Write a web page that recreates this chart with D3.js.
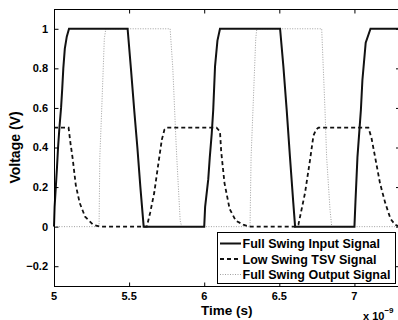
<!DOCTYPE html>
<html>
<head>
<meta charset="utf-8">
<script src="https://cdn.jsdelivr.net/npm/d3@7"></script>
<style>
  body { margin: 0; background: #fff; }
  svg { display: block; font-family: "Liberation Sans", Arial, Helvetica, sans-serif; font-weight: bold; }
</style>
</head>
<body>
<svg id="chart" width="398" height="320"></svg>
<script>
// Time in ns (axis shows x 10^-9 s), voltage in V
const inputSignal = [
    [5.000, 0.00], [5.004, 0.10], [5.012, 0.20], [5.020, 0.30], [5.027, 0.40], [5.036, 0.50],
    [5.047, 0.60], [5.055, 0.70], [5.062, 0.80], [5.072, 0.90], [5.085, 0.96], [5.100, 1.00],
    [5.490, 1.00], [5.512, 0.80], [5.535, 0.58], [5.555, 0.40], [5.575, 0.20], [5.597, 0.00],
    [6.000, 0.00], [6.006, 0.10], [6.027, 0.24], [6.037, 0.35], [6.050, 0.47], [6.060, 0.59],
    [6.072, 0.81], [6.088, 0.94], [6.105, 1.00],
    [6.505, 1.00], [6.527, 0.81], [6.549, 0.59], [6.571, 0.35], [6.593, 0.12], [6.605, 0.00],
    [7.000, 0.00], [7.007, 0.13], [7.020, 0.35], [7.043, 0.59], [7.053, 0.74], [7.075, 0.93],
    [7.107, 1.00], [7.300, 1.00]
];

const tsvSignal = [
    [5.000, 0.50], [5.097, 0.50], [5.110, 0.42], [5.125, 0.34], [5.145, 0.21], [5.171, 0.12],
    [5.207, 0.05], [5.260, 0.01], [5.307, 0.00],
    [5.618, 0.00], [5.640, 0.07], [5.667, 0.17], [5.695, 0.32], [5.718, 0.44], [5.735, 0.49], [5.750, 0.50],
    [6.082, 0.50], [6.105, 0.48], [6.113, 0.38], [6.135, 0.22], [6.169, 0.09], [6.210, 0.03],
    [6.260, 0.01], [6.300, 0.00],
    [6.610, 0.00], [6.627, 0.01], [6.671, 0.17], [6.705, 0.34], [6.727, 0.46], [6.745, 0.49], [6.760, 0.50],
    [7.093, 0.50], [7.113, 0.45], [7.138, 0.35], [7.170, 0.22], [7.205, 0.12], [7.240, 0.04],
    [7.270, 0.01], [7.300, 0.00]
];

const outputSignal = [
    [5.000, 0.00], [5.300, 0.00], [5.305, 0.35], [5.318, 0.60], [5.335, 0.95], [5.345, 1.00],
    [5.773, 1.00], [5.791, 0.80], [5.811, 0.45], [5.818, 0.34], [5.840, 0.03], [5.850, 0.00],
    [6.305, 0.00], [6.312, 0.35], [6.325, 0.60], [6.343, 0.95], [6.350, 1.00],
    [6.782, 1.00], [6.804, 0.59], [6.815, 0.35], [6.838, 0.08], [6.849, 0.00],
    [7.300, 0.00]
];

const seriesNames = ["Full Swing Input Signal", "Low Swing TSV Signal", "Full Swing Output Signal"];

const xTicks = [5, 5.5, 6, 6.5, 7];
const xTickLabels = ["5", "5.5", "6", "6.5", "7"];
const yTicks = [-0.2, 0, 0.2, 0.4, 0.6, 0.8, 1];
const yTickLabels = ["\u22120.2", "0", "0.2", "0.4", "0.6", "0.8", "1"];

const svg = d3.select("#chart");

// plot box (right edge falls just outside the picture)
const box = { left: 54, top: 9, right: 399.5, bottom: 286 };

const x = d3.scaleLinear().domain([5, 7.3]).range([box.left, box.right]);
const y = d3.scaleLinear().domain([-0.3, 1.1]).range([box.bottom, box.top]);

const line = d3.line()
    .x(d => x(d[0]))
    .y(d => y(d[1]));

// styles for the three signals, in legend order
const styles = [
    { stroke: "#111", width: 2, dash: null },
    { stroke: "#111", width: 1.8, dash: "4,3" },
    { stroke: "#a0a0a0", width: 1, dash: "1,1.5" }
];
const allSeries = [inputSignal, tsvSignal, outputSignal];

// draw output first so the darker lines sit on top
[2, 1, 0].forEach(i => {
    svg.append("path")
        .datum(allSeries[i])
        .attr("d", line)
        .attr("fill", "none")
        .attr("stroke", styles[i].stroke)
        .attr("stroke-width", styles[i].width)
        .attr("stroke-dasharray", styles[i].dash)
        .attr("stroke-linejoin", "miter");
});

// box + inward ticks, matlab style
svg.append("rect")
    .attr("x", box.left + 0.5).attr("y", box.top + 0.5)
    .attr("width", box.right - box.left).attr("height", box.bottom - box.top)
    .attr("fill", "none").attr("stroke", "#000").attr("stroke-width", 1);

const tickLen = 4;
svg.append("g").attr("transform", "translate(0," + (box.bottom + 0.5) + ")")
    .call(d3.axisTop(x).tickValues(xTicks).tickSize(tickLen).tickFormat(""))
    .call(g => g.select(".domain").remove());
svg.append("g").attr("transform", "translate(0," + (box.top + 0.5) + ")")
    .call(d3.axisBottom(x).tickValues(xTicks).tickSize(tickLen).tickFormat(""))
    .call(g => g.select(".domain").remove());
svg.append("g").attr("transform", "translate(" + (box.left + 0.5) + ",0)")
    .call(d3.axisRight(y).tickValues(yTicks).tickSize(tickLen).tickFormat(""))
    .call(g => g.select(".domain").remove());
svg.append("g").attr("transform", "translate(" + (box.right + 0.5) + ",0)")
    .call(d3.axisLeft(y).tickValues(yTicks).tickSize(tickLen).tickFormat(""))
    .call(g => g.select(".domain").remove());

// tick labels
svg.selectAll(".xlab")
    .data(xTicks)
    .enter()
    .append("text")
    .attr("x", d => x(d))
    .attr("y", 300)
    .attr("text-anchor", "middle")
    .style("font-size", "11px")
    .text((d, i) => xTickLabels[i]);

svg.selectAll(".ylab")
    .data(yTicks)
    .enter()
    .append("text")
    .attr("x", 48)
    .attr("y", d => y(d))
    .attr("dy", "0.36em")
    .attr("text-anchor", "end")
    .style("font-size", "11px")
    .text((d, i) => yTickLabels[i]);

// axis titles
svg.append("text")
    .attr("x", (box.left + box.right) / 2)
    .attr("y", 315)
    .attr("text-anchor", "middle")
    .style("font-size", "13.5px")
    .text("Time (s)");

svg.append("text")
    .attr("transform", "translate(20," + ((box.top + box.bottom) / 2) + ") rotate(-90)")
    .attr("text-anchor", "middle")
    .style("font-size", "14px")
    .text("Voltage (V)");

// exponent note
const expo = svg.append("text")
    .attr("x", 363)
    .attr("y", 319.5)
    .style("font-size", "11px");
expo.append("tspan").text("x 10");
expo.append("tspan").attr("dy", -7).style("font-size", "8px").text("\u22129");

// legend
const legend = svg.append("g");
legend.append("rect")
    .attr("x", 217.5).attr("y", 232.5)
    .attr("width", 178).attr("height", 51)
    .attr("fill", "#fff").attr("stroke", "#000").attr("stroke-width", 1);

const rowY = [243.5, 259, 274.5];
seriesNames.forEach((name, i) => {
    legend.append("line")
        .attr("x1", 220).attr("x2", 241)
        .attr("y1", rowY[i]).attr("y2", rowY[i])
        .attr("stroke", styles[i].stroke)
        .attr("stroke-width", styles[i].width)
        .attr("stroke-dasharray", styles[i].dash);
    legend.append("text")
        .attr("x", 242.5)
        .attr("y", rowY[i])
        .attr("dy", "0.36em")
        .style("font-size", "12.5px")
        .text(name);
});
</script>
</body>
</html>
